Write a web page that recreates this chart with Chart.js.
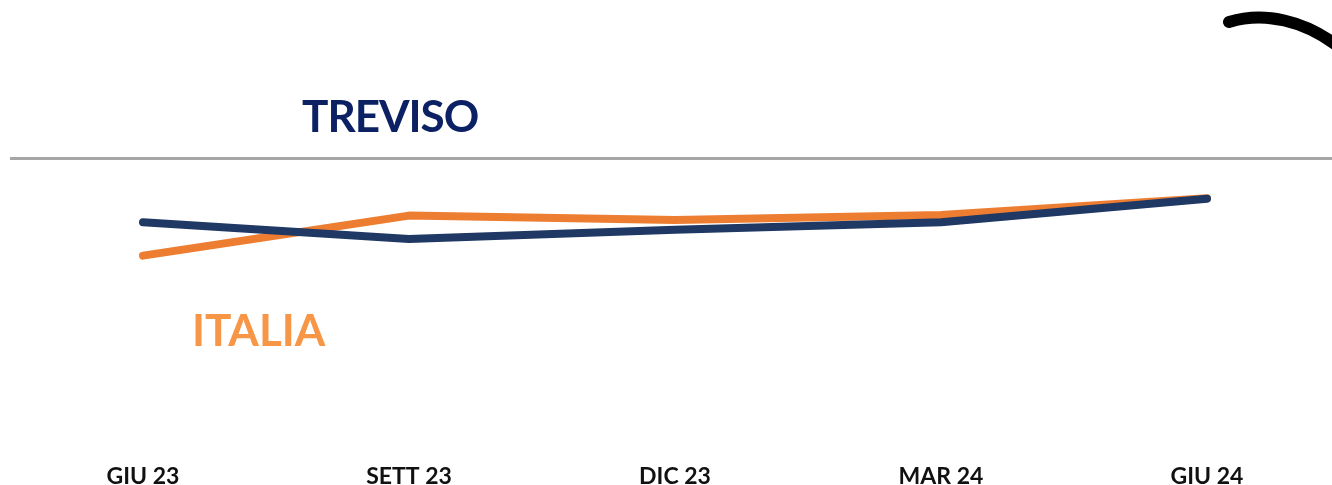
<!DOCTYPE html>
<html>
<head>
<meta charset="utf-8">
<script src="https://cdn.jsdelivr.net/npm/chart.js@4.4.1/dist/chart.umd.min.js"></script>
<style>
  html, body { margin: 0; padding: 0; background: #ffffff; overflow: hidden; }
  #wrap { position: relative; width: 1332px; height: 485px; overflow: hidden; }
  #chart { position: absolute; left: 0; top: 0; }
  .tag { position: absolute; font-family: "Lato", sans-serif; font-weight: 700; font-size: 44px; line-height: 1; white-space: nowrap; }
  #treviso { left: 302px; top: 93px; color: #0b2163; letter-spacing: -1px; }
  #italia { left: 192px; top: 307px; color: #f79646; }
  #arc { position: absolute; left: 0; top: 0; }
</style>
</head>
<body>
<div id="wrap">
  <canvas id="chart" width="1340" height="494"></canvas>
  <div class="tag" id="treviso">TREVISO</div>
  <div class="tag" id="italia">ITALIA</div>
  <svg id="arc" width="1332" height="485">
    <path d="M1229 22 C1262 12, 1305 18, 1345 52" fill="none" stroke="#000" stroke-width="12" stroke-linecap="round"/>
  </svg>
</div>
<script>
// categories and series (hidden index scale, 0-100 between baseline and grey rule)
const periods = ['GIU 23', 'SETT 23', 'DIC 23', 'MAR 24', 'GIU 24'];
const trevisoValues = [78.0, 72.3, 75.5, 78.0, 86.1];
const italiaValues = [66.6, 80.3, 78.8, 80.5, 86.2];
const yMin = 0;
const yMax = 100;

let ctx = document.getElementById('chart');

new Chart(ctx, {
    type: 'line',
    data: {
        labels: periods,
        datasets: [{
            label: 'Treviso',
            data: trevisoValues,
            borderColor: '#203864',
            borderWidth: 8,
            pointRadius: 0,
            borderCapStyle: 'round',
            borderJoinStyle: 'round',
            tension: 0,
            fill: false,
        }, {
            label: 'Italia',
            data: italiaValues,
            borderColor: '#ed7d31',
            borderWidth: 8,
            pointRadius: 0,
            borderCapStyle: 'round',
            borderJoinStyle: 'round',
            tension: 0,
            fill: false,
        }],
    },
    options: {
        responsive: false,
        animation: false,
        layout: { padding: { left: 10, top: 158, right: 0, bottom: 0 } },
        plugins: {
            legend: { display: false },
            tooltip: { enabled: false },
        },
        scales: {
            x: {
                offset: true,
                grid: { display: false },
                border: { display: false },
                ticks: {
                    color: '#111111',
                    padding: 4,
                    maxRotation: 0,
                    font: { family: 'Lato', size: 23, weight: 'bold' },
                },
            },
            y: {
                min: yMin,
                max: yMax,
                border: { display: false },
                ticks: { display: false, stepSize: 100 },
                grid: {
                    drawTicks: false,
                    lineWidth: 3,
                    color: (c) => c.tick && c.tick.value === yMax ? '#a6a6a6' : 'rgba(0,0,0,0)',
                },
            },
        },
    },
});
</script>
</body>
</html>
